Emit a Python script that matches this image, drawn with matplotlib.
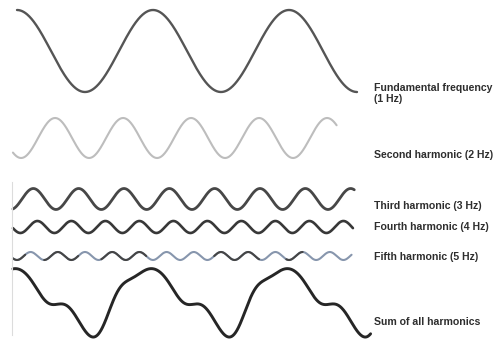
import numpy as np
import matplotlib
matplotlib.use("Agg")
import matplotlib.pyplot as plt

# Harmonic series of a 1 Hz fundamental
labels = [
    "Fundamental frequency",
    "Second harmonic (2 Hz)",
    "Third harmonic (3 Hz)",
    "Fourth harmonic (4 Hz)",
    "Fifth harmonic (5 Hz)",
]
fund_sublabel = "(1 Hz)"
sum_label = "Sum of all harmonics"
freqs_hz = [1, 2, 3, 4, 5]
amplitudes = [41.0, 20.0, 10.5, 6.0, 4.0]
first_peak_s = [0.0, 0.28, 0.12, 0.15, 0.10]
start_s = [0.0, -0.03, -0.03, -0.03, -0.03]
end_s = [2.5, 2.35, 2.48, 2.47, 2.46]

# Relative weight and phase of each harmonic in the summed waveform
sum_weights = [0.798, 0.215, 0.173, 0.011, 0.016]
sum_first_peak_s = [-0.008, 0.359, 0.0605, 0.217, 0.135]
sum_span_s = (-0.03, 2.6)

# Layout (pixel units on a 499x343 canvas; time runs at 136 px per second)
W, H = 499, 343
PX_PER_S = 136.0
X0 = 17.0
baselines = [51, 138, 199, 227, 256]
sum_baseline = 298.5
sum_scale = 36.0
label_x = 374
label_y = [88, 155, 206, 227, 257]
fund_sublabel_y = 99
sum_label_y = 322

colors = ["#555555", "#bdbdbd", "#474747", "#383838", "#8796ad"]
widths = [1.7, 1.5, 2.0, 1.9, 1.5]

fig = plt.figure(figsize=(W / 100, H / 100), dpi=100)
ax = fig.add_axes([0, 0, 1, 1])
ax.set_xlim((0 - X0) / PX_PER_S, (W - X0) / PX_PER_S)
ax.set_ylim(H, 0)
ax.axis("off")


def wave(t, f, a, tp):
    return a * np.cos(2 * np.pi * f * (t - tp))


for f, a, tp, t0, t1, b, c, lw in zip(freqs_hz, amplitudes, first_peak_s,
                                       start_s, end_s, baselines, colors, widths):
    t = np.linspace(t0, t1, 800)
    ax.plot(t, b - wave(t, f, a, tp), color=c, lw=lw, solid_capstyle="round")

# darker stretches along the fifth harmonic trace
for s0, s1 in [(-0.03, 0.06), (0.2, 0.45), (0.62, 0.95), (1.45, 1.78), (1.98, 2.1)]:
    t = np.linspace(s0, s1, 200)
    ax.plot(t, baselines[4] - wave(t, freqs_hz[4], amplitudes[4], first_peak_s[4]),
            color="#454545", lw=1.5, solid_capstyle="round")

# summed waveform
ts = np.linspace(sum_span_s[0], sum_span_s[1], 1200)
total = sum(wave(ts, f, w, tp) for f, w, tp in zip(freqs_hz, sum_weights, sum_first_peak_s))
ax.plot(ts, sum_baseline - sum_scale * total, color="#262626", lw=2.1,
        solid_capstyle="round")

# faint left margin rule
ax.plot([(12 - X0) / PX_PER_S] * 2, [182, 335], color="#dcdcdc", lw=0.8)

text_kw = dict(fontsize=7.6, fontweight="bold", family="Liberation Sans",
               color="#2e2e2e", va="center", ha="left")
for text, y in zip(labels, label_y):
    fig.text(label_x / W, 1 - y / H, text, **text_kw)
fig.text(label_x / W, 1 - fund_sublabel_y / H, fund_sublabel, **text_kw)
fig.text(label_x / W, 1 - sum_label_y / H, sum_label, **text_kw)

fig.savefig("out.png", dpi=100, facecolor="white")
